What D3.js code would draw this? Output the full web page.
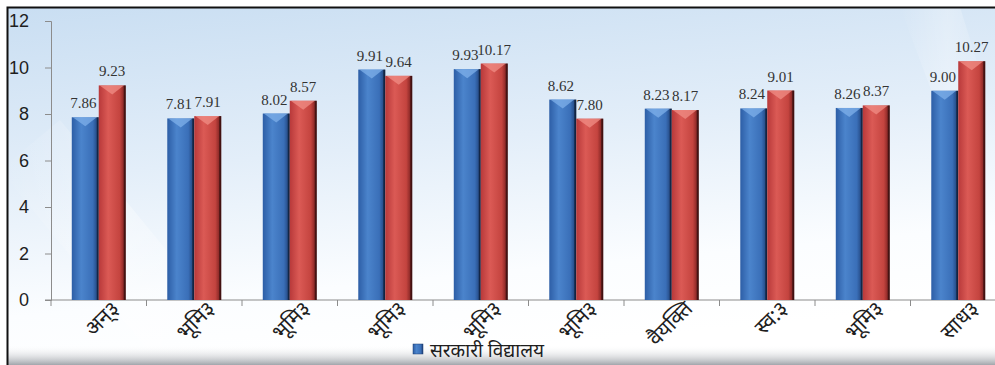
<!DOCTYPE html>
<html>
<head>
<meta charset="utf-8">
<script src="https://cdn.jsdelivr.net/npm/d3@7"></script>
<style>
  body { margin: 0; background: #fff; }
  svg { display: block; }
</style>
</head>
<body>
<div id="chart"></div>
<script>
var categories = ["अन्३", "भूमि३", "भूमि३", "भूमि३", "भूमि३", "भूमि३", "वैयक्ति", "स्व:३", "भूमि३", "साध३"];
var seriesNames = ["सरकारी विद्यालय", "संस्थागत विद्यालय"];
var govValues = [7.86, 7.81, 8.02, 9.91, 9.93, 8.62, 8.23, 8.24, 8.26, 9.00];
var instValues = [9.23, 7.91, 8.57, 9.64, 10.17, 7.80, 8.17, 9.01, 8.37, 10.27];
var yTicks = [0, 2, 4, 6, 8, 10, 12];

var W = 995, H = 365;
var margin = { top: 21, left: 51, bottom: 65 };
var plotBottom = H - margin.bottom; // 300

var svg = d3.select("#chart").append("svg")
  .attr("width", W)
  .attr("height", H);

var defs = svg.append("defs");

// background wash
var bg = defs.append("linearGradient").attr("id", "bg")
  .attr("x1", 0).attr("y1", 0).attr("x2", 0.25).attr("y2", 1);
bg.append("stop").attr("offset", "0%").attr("stop-color", "#c9def2");
bg.append("stop").attr("offset", "45%").attr("stop-color", "#e3eef9");
bg.append("stop").attr("offset", "80%").attr("stop-color", "#fbfdff");
bg.append("stop").attr("offset", "100%").attr("stop-color", "#ffffff");

var streak = defs.append("linearGradient").attr("id", "streak")
  .attr("x1", 0).attr("y1", 0).attr("x2", 1).attr("y2", 0);
streak.append("stop").attr("offset", "0%").attr("stop-color", "#ffffff").attr("stop-opacity", 0);
streak.append("stop").attr("offset", "50%").attr("stop-color", "#ffffff").attr("stop-opacity", 0.55);
streak.append("stop").attr("offset", "100%").attr("stop-color", "#ffffff").attr("stop-opacity", 0);

var shadow = defs.append("linearGradient").attr("id", "shadow")
  .attr("x1", 0).attr("y1", 0).attr("x2", 0).attr("y2", 1);
shadow.append("stop").attr("offset", "0%").attr("stop-color", "#ffffff").attr("stop-opacity", 0);
shadow.append("stop").attr("offset", "100%").attr("stop-color", "#8a8f96").attr("stop-opacity", 0.8);

// bar fills: shaded like a bevelled column
var barColors = [
  { id: "gBlue", stops: ["#2d5ea6", "#4b84cc", "#3a6fb8", "#1d3d72"], top: "#7fb0ea" },
  { id: "gRed", stops: ["#b8393a", "#db5a55", "#c4443f", "#6e1b1b"], top: "#f08e86" }
];
barColors.forEach(function (c) {
  var g = defs.append("linearGradient").attr("id", c.id)
    .attr("x1", 0).attr("y1", 0).attr("x2", 1).attr("y2", 0);
  g.append("stop").attr("offset", "0%").attr("stop-color", c.stops[0]);
  g.append("stop").attr("offset", "35%").attr("stop-color", c.stops[1]);
  g.append("stop").attr("offset", "78%").attr("stop-color", c.stops[2]);
  g.append("stop").attr("offset", "100%").attr("stop-color", c.stops[3]);
});

svg.append("rect")
  .attr("x", 7).attr("y", 7).attr("width", W).attr("height", H)
  .attr("fill", "url(#bg)");

// faint diagonal light streaks
svg.append("polygon")
  .attr("points", "0,170 60,120 260,365 160,365")
  .attr("fill", "url(#streak)").attr("opacity", 0.6);
svg.append("polygon")
  .attr("points", "900,7 960,7 995,120 995,260")
  .attr("fill", "url(#streak)").attr("opacity", 0.5);

svg.append("rect")
  .attr("x", 7).attr("y", 345).attr("width", W).attr("height", 20)
  .attr("fill", "url(#shadow)");

// frame
svg.append("rect")
  .attr("x", 7.5).attr("y", 7.5).attr("width", W + 10).attr("height", H + 10)
  .attr("fill", "none").attr("stroke", "#111").attr("stroke-width", 2);

var x0 = d3.scaleBand()
  .domain(d3.range(categories.length))
  .range([margin.left, margin.left + 95.5 * categories.length]);

var x1 = d3.scaleBand()
  .domain([0, 1])
  .range([0, x0.bandwidth()])
  .paddingOuter(0.77);

var y = d3.scaleLinear()
  .domain([0, 12])
  .range([plotBottom, margin.top]);

// y axis
var yAxis = svg.append("g")
  .attr("transform", "translate(" + margin.left + ",0)")
  .call(d3.axisLeft(y).tickValues(yTicks).tickSize(6).tickPadding(16).tickFormat(d3.format("d")));
yAxis.select(".domain").attr("stroke", "#8c8c8c");
yAxis.selectAll(".tick line").attr("stroke", "#8c8c8c");
yAxis.selectAll(".tick text")
  .attr("fill", "#1e1e1e")
  .style("font-family", "'Liberation Sans', Arial, sans-serif")
  .style("font-size", "18px");

// x axis
var xAxis = svg.append("g")
  .attr("transform", "translate(0," + plotBottom + ")");
xAxis.append("line")
  .attr("x1", margin.left - 6).attr("x2", W + 10)
  .attr("stroke", "#8c8c8c");
xAxis.selectAll("line.tk")
  .data(d3.range(categories.length + 1))
  .enter().append("line")
  .attr("class", "tk")
  .attr("x1", function (i) { return i < categories.length ? x0(i) : x0(i - 1) + x0.bandwidth(); })
  .attr("x2", function (i) { return i < categories.length ? x0(i) : x0(i - 1) + x0.bandwidth(); })
  .attr("y1", 0).attr("y2", 6)
  .attr("stroke", "#8c8c8c");

// labels set in a big size and scaled down, so the glyphs are drawn as outlines
var labelSize = 21, bigSize = 320;
xAxis.selectAll("text.cat")
  .data(categories)
  .enter().append("text")
  .attr("class", "cat")
  .attr("text-anchor", "end")
  .attr("transform", function (d, i) {
    return "translate(" + (x0(i) + x0.bandwidth() / 2 + 22) + ",10) rotate(-45) scale(" + (labelSize / bigSize) + ")";
  })
  .attr("fill", "#1e1e1e")
  .attr("text-rendering", "geometricPrecision")
  .style("font-family", "'Noto Sans', sans-serif")
  .style("font-size", bigSize + "px")
  .text(function (d) { return d; });

// bars
var series = [govValues, instValues];
var groups = svg.selectAll("g.cat")
  .data(categories)
  .enter().append("g")
  .attr("class", "cat")
  .attr("transform", function (d, i) { return "translate(" + x0(i) + ",0)"; });

groups.each(function (d, i) {
  var g = d3.select(this);
  series.forEach(function (vals, s) {
    var bx = x1(s), bw = x1.bandwidth(), top = y(vals[i]);
    g.append("rect")
      .attr("x", bx).attr("y", top)
      .attr("width", bw).attr("height", plotBottom - top)
      .attr("fill", "url(#" + barColors[s].id + ")");
    // lighter chevron at the top
    g.append("polygon")
      .attr("points", [
        [bx + 1, top], [bx + bw - 2, top], [bx + bw / 2, top + 9]
      ].map(function (p) { return p.join(","); }).join(" "))
      .attr("fill", barColors[s].top).attr("opacity", 0.75);
    // dark edge on the right side
    g.append("rect")
      .attr("x", bx + bw - 2).attr("y", top)
      .attr("width", 2).attr("height", plotBottom - top)
      .attr("fill", "#000").attr("opacity", 0.45);
    g.append("text")
      .attr("x", bx + bw / 2 - (s === 0 ? 2 : 0))
      .attr("y", top - 9)
      .attr("text-anchor", "middle")
      .attr("fill", "#333")
      .style("font-family", "'Liberation Serif', 'Times New Roman', serif")
      .style("font-size", "15px")
      .text(d3.format(".2f")(vals[i]));
  });
});

// legend (only the first entry is visible in the frame)
var legend = svg.append("g").attr("transform", "translate(413,344)");
legend.append("rect")
  .attr("width", 10).attr("height", 10)
  .attr("fill", "url(#gBlue)").attr("stroke", "#1d3d72").attr("stroke-width", 0.5);
legend.append("text")
  .attr("x", 17).attr("y", 13)
  .attr("fill", "#1e1e1e")
  .style("font-family", "'Noto Sans', sans-serif")
  .style("font-size", "19px")
  .text(seriesNames[0]);
</script>
</body>
</html>
